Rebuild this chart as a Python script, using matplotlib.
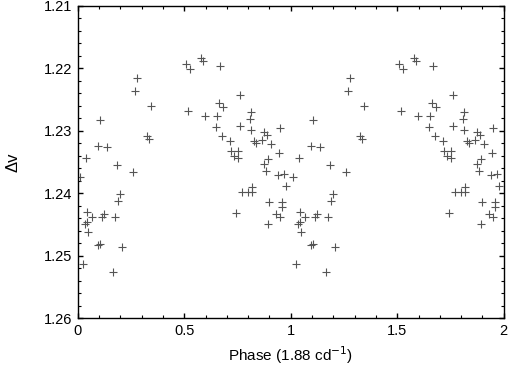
import matplotlib
matplotlib.use("Agg")
import matplotlib.pyplot as plt
from matplotlib.ticker import MultipleLocator
import numpy as np

phase = [0.277, 0.268, 0.346, 0.106, 0.327, 0.336, 0.095, 0.139, 0.038, 0.186,
         0.260, 0.009, 0.200, 0.189, 0.045, 0.069, 0.125, 0.116, 0.177, 0.045,
         0.036, 0.050, 0.105, 0.097, 0.210, 0.026, 0.167, 0.510, 0.529, 0.580,
         0.588, 0.667, 0.763, 0.663, 0.684, 0.519, 0.812, 0.598, 0.655, 0.807,
         0.763, 0.648, 0.815, 0.951, 0.876, 0.887, 0.677, 0.715, 0.829, 0.839,
         0.865, 0.909, 0.721, 0.753, 0.944, 0.732, 0.753, 0.895, 0.873, 0.882,
         0.940, 0.969, 0.820, 0.773, 0.800, 0.820, 0.978, 0.898, 0.961, 0.959,
         0.932, 0.951, 0.745, 0.892]
dv = [1.2215, 1.2237, 1.2260, 1.2283, 1.2308, 1.2313, 1.2324, 1.2327, 1.2344, 1.2355,
      1.2367, 1.2375, 1.2401, 1.2412, 1.2431, 1.2439, 1.2434, 1.2439, 1.2438, 1.2447,
      1.2450, 1.2463, 1.2481, 1.2483, 1.2486, 1.2513, 1.2527, 1.2194, 1.2201, 1.2184,
      1.2188, 1.2197, 1.2243, 1.2255, 1.2262, 1.2268, 1.2270, 1.2276, 1.2276, 1.2282,
      1.2292, 1.2295, 1.2299, 1.2296, 1.2302, 1.2307, 1.2308, 1.2316, 1.2316, 1.2320,
      1.2315, 1.2321, 1.2333, 1.2332, 1.2336, 1.2340, 1.2344, 1.2345, 1.2353, 1.2364,
      1.2371, 1.2369, 1.2391, 1.2398, 1.2398, 1.2398, 1.2389, 1.2414, 1.2414, 1.2423,
      1.2433, 1.2438, 1.2432, 1.2450]

xticks = [0, 0.5, 1, 1.5, 2]
xticklabels = ["0", "0.5", "1", "1.5", "2"]
yticks = [1.21, 1.22, 1.23, 1.24, 1.25, 1.26]
yticklabels = ["1.21", "1.22", "1.23", "1.24", "1.25", "1.26"]

plt.rcParams['font.family'] = ['Liberation Sans', 'DejaVu Sans']

fig = plt.figure(figsize=(5.09, 3.67), dpi=100)
ax = fig.add_axes([0.1527, 0.1335, 0.9896 - 0.1527, 0.9845 - 0.1335])

p = np.array(phase)
v = np.array(dv)
ax.plot(np.concatenate([p, p + 1]), np.concatenate([v, v]), linestyle='none',
        marker='+', markersize=6, markeredgewidth=0.8, color='#555555')

ax.set_xlim(0, 2)
ax.set_ylim(1.26, 1.21)
ax.set_xticks(xticks)
ax.set_xticklabels(xticklabels)
ax.set_yticks(yticks)
ax.set_yticklabels(yticklabels)
ax.xaxis.set_minor_locator(MultipleLocator(0.1))
ax.yaxis.set_minor_locator(MultipleLocator(0.002))
ax.tick_params(which='both', direction='in', top=True, right=True, labelsize=10.5, pad=4)
ax.tick_params(which='major', length=3.5, width=1)
ax.tick_params(which='minor', length=2, width=0.8)
for s in ax.spines.values():
    s.set_linewidth(1.0)

ax.set_xlabel("Phase (1.88 cd$^{-1}$)", fontsize=11, labelpad=5)
ax.set_ylabel("Δv", fontsize=12, labelpad=17)

fig.savefig("out.png", dpi=100)
